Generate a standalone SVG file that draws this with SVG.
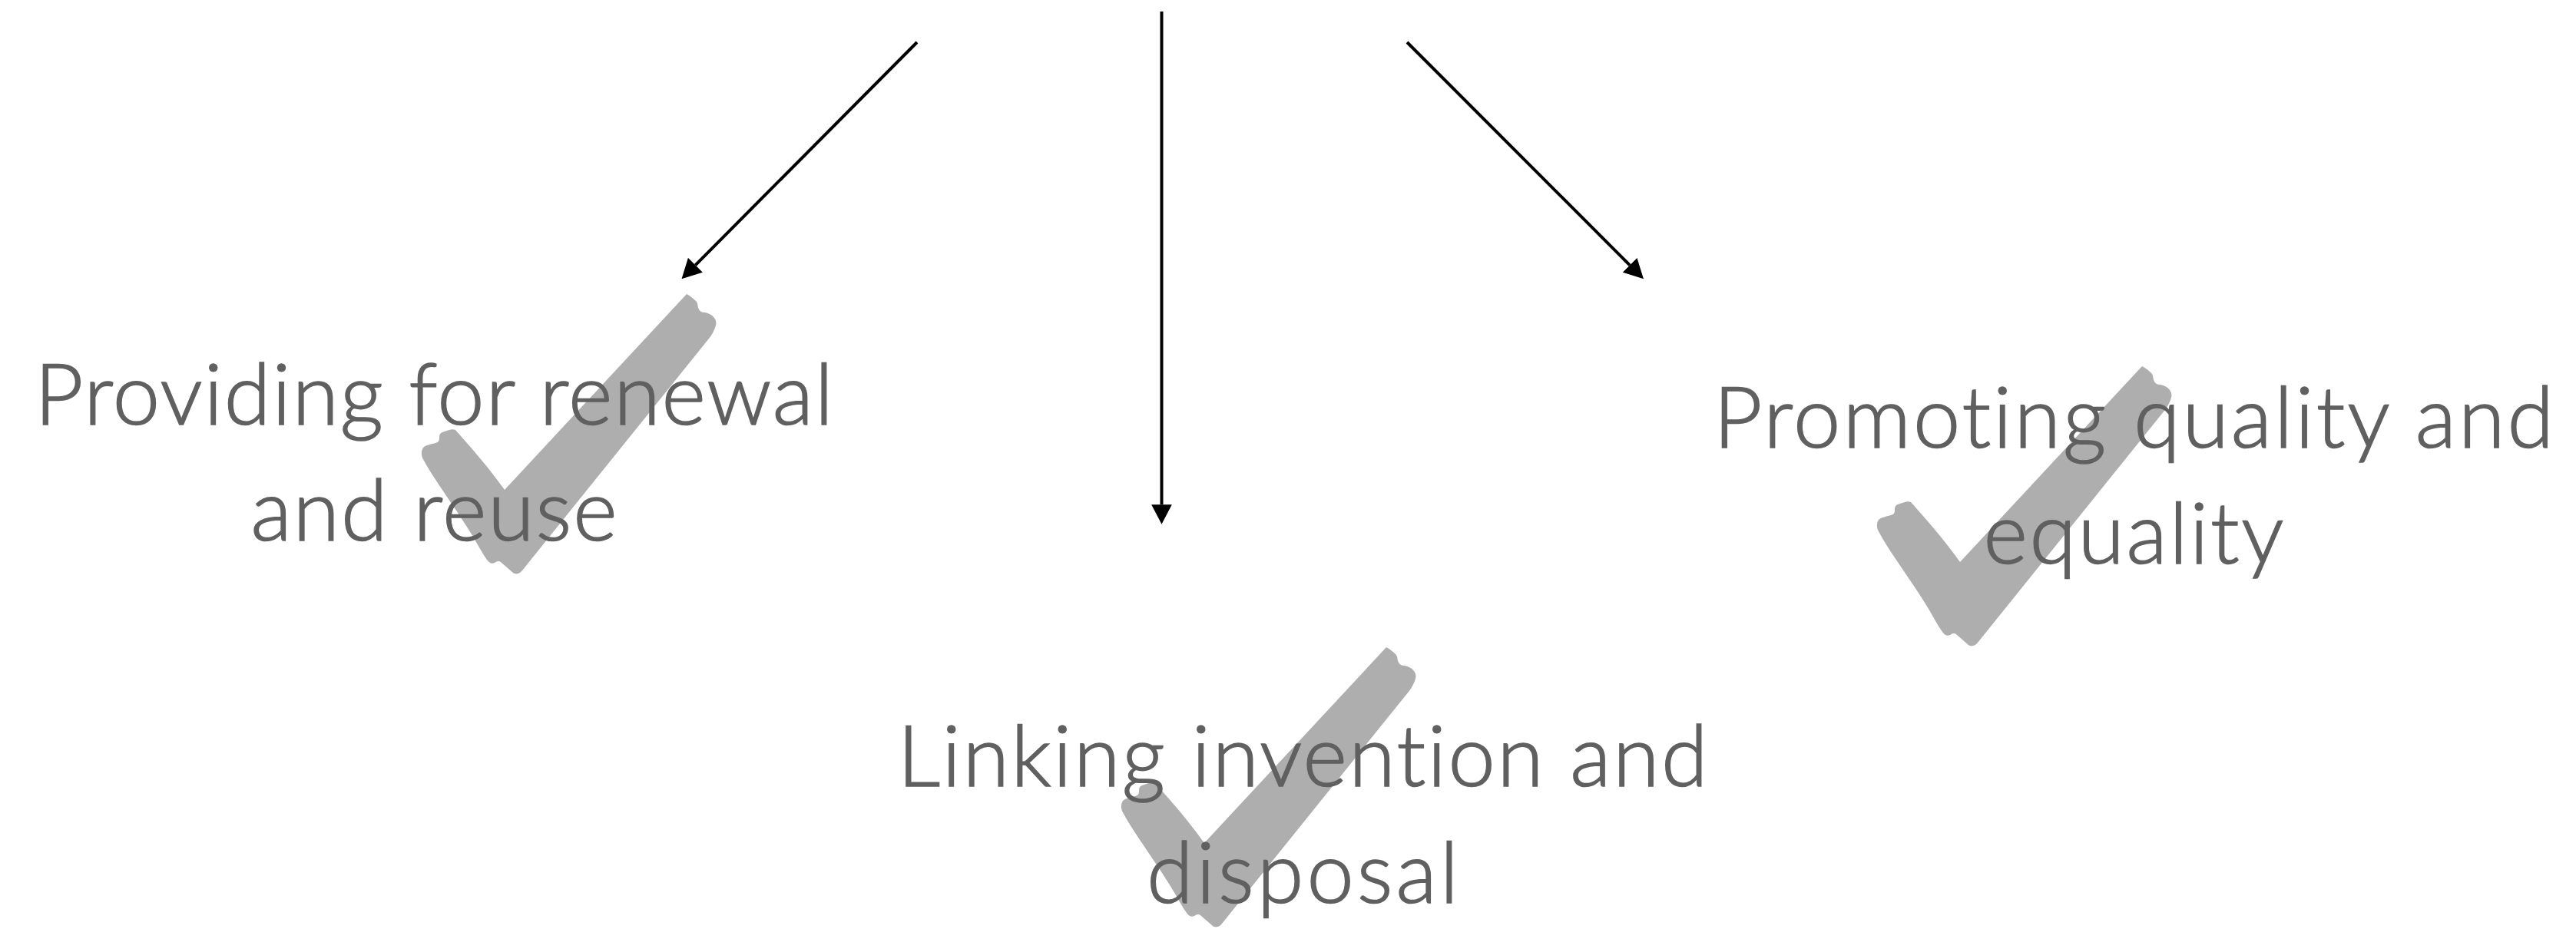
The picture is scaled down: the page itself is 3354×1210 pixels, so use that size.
<svg xmlns="http://www.w3.org/2000/svg" width="3354" height="1210" viewBox="0 0 3354 1210">
  <style>
    .lbl { font-family: Lato, "Open Sans", "Liberation Sans", sans-serif; font-weight: 300; font-size: 110px; fill: #606060; stroke: #606060; stroke-width: 1.6px; text-anchor: middle; font-variant-ligatures: none; font-feature-settings: "liga" 0, "clig" 0; }
    .tick { fill: #aeaeae; }
    .conn { stroke: #000; stroke-width: 4; fill: none; marker-end: url(#arrow); }
  </style>
  <defs>
    <!-- brush-stroke check mark, origin at the inner vertex -->
    <path id="tick-shape" d="M0,0 L237,-255 C241,-253 246,-249 250,-245 C252,-242 251,-238 253,-235 C255,-232 257,-231 261,-231 C266,-230 270,-228 273,-224 C276,-220 276,-216 274,-211 C272,-206 270,-202 266,-197 L23,105 C20,109 15,111 11,108 L-4,95 C-7,92 -10,93 -13,95 C-17,97 -20,95 -23,91 C-26,87 -30,80 -33,75 C-55,35 -90,-10 -105,-38 C-109,-44 -109,-50 -106,-55 C-103,-58 -97,-59 -90,-61 C-86,-62 -85,-64 -85,-68 C-85,-73 -83,-75 -78,-76 C-73,-78 -68,-80 -64,-78 C-50,-62 -25,-35 0,0 Z"/>
    <marker id="arrow" markerUnits="userSpaceOnUse" viewBox="0 0 25.4 26.7" markerWidth="25.4" markerHeight="26.7" refX="0" refY="13.35" orient="auto">
      <path d="M0,0 L25.4,13.35 L0,26.7 Z" fill="#000"/>
    </marker>
  </defs>

  <g id="connectors">
    <path class="conn" d="M1194,55 L905.4,345.3"/>
    <path class="conn" d="M1512.5,15 L1512.5,657.3"/>
    <path class="conn" d="M1832,55 L2122,345.3"/>
  </g>

  <g id="node-renewal">
    <use href="#tick-shape" class="tick" transform="translate(657,638)"/>
    <text class="lbl" x="565" y="553" textLength="1040" lengthAdjust="spacing">Providing for renewal</text>
    <text class="lbl" x="565" y="704" textLength="477" lengthAdjust="spacing">and reuse</text>
  </g>

  <g id="node-invention">
    <use href="#tick-shape" class="tick" transform="translate(1568,1098)"/>
    <text class="lbl" x="1696" y="1024" textLength="1055" lengthAdjust="spacing">Linking invention and</text>
    <text class="lbl" x="1696" y="1176" textLength="406" lengthAdjust="spacing">disposal</text>
  </g>

  <g id="node-equality">
    <use href="#tick-shape" class="tick" transform="translate(2552,732)"/>
    <text class="lbl" x="2778" y="583" textLength="1094" lengthAdjust="spacing">Promoting quality and</text>
    <text class="lbl" x="2778" y="734" textLength="391" lengthAdjust="spacing">equality</text>
  </g>
</svg>
